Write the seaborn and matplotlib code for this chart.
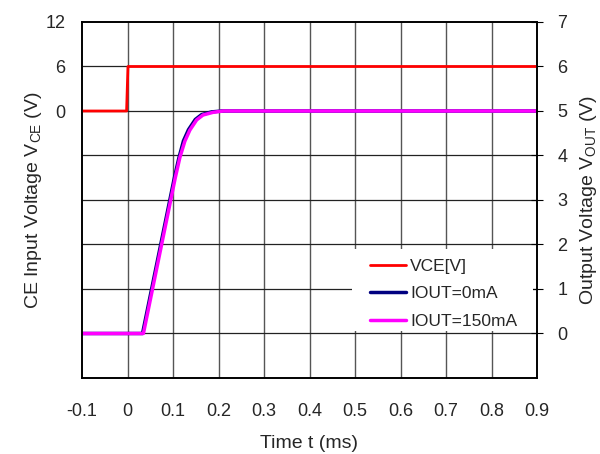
import matplotlib
matplotlib.use("Agg")
import matplotlib.pyplot as plt
from matplotlib.patches import Rectangle
import seaborn as sns
import pandas as pd

# --- data ---
vce_t = [-0.1, -0.002, 0.001, 0.9]
vce_v = [0.0, 0.0, 6.0, 6.0]

vout0_t = [-0.1, 0.033, 0.035, 0.053, 0.073, 0.093, 0.103, 0.113, 0.123, 0.134, 0.149, 0.163, 0.185, 0.207, 0.9]
vout0_v = [0.0, 0.0, 0.1, 1.0, 2.0, 3.0, 3.5, 3.95, 4.33, 4.58, 4.81, 4.92, 4.98, 5.0, 5.0]

vout150_t = [-0.1, 0.035, 0.037, 0.055, 0.075, 0.095, 0.105, 0.115, 0.126, 0.137, 0.152, 0.166, 0.188, 0.21, 0.9]
vout150_v = [0.0, 0.0, 0.1, 1.0, 2.0, 3.0, 3.5, 3.95, 4.32, 4.57, 4.8, 4.91, 4.97, 5.0, 5.0]

x_ticks = [-0.1, 0, 0.1, 0.2, 0.3, 0.4, 0.5, 0.6, 0.7, 0.8, 0.9]
x_tick_labels = ["-0.1", "0", "0.1", "0.2", "0.3", "0.4", "0.5", "0.6", "0.7", "0.8", "0.9"]
left_ticks = [0, 6, 12]
right_ticks = [0, 1, 2, 3, 4, 5, 6, 7]

sns.set_style("white")
plt.rcParams['font.family'] = ['Liberation Sans', 'DejaVu Sans']
plt.rcParams['mathtext.fontset'] = 'custom'
plt.rcParams['mathtext.rm'] = 'Liberation Sans'

FT = 13     # tick labels
FL = 14     # axis labels
FG = 12.5   # legend

fig = plt.figure(figsize=(6.0, 4.54), dpi=100)
ax = fig.add_axes([82/600, 1-378/454, (537-82)/600, (378-22)/454])
ax2 = ax.twinx()

df_vce = pd.DataFrame({"t": vce_t, "v": vce_v})
df0 = pd.DataFrame({"t": vout0_t, "v": vout0_v})
df150 = pd.DataFrame({"t": vout150_t, "v": vout150_v})

sns.lineplot(data=df_vce, x="t", y="v", ax=ax, color="#ff0000", lw=2, label="VCE[V]", legend=False, estimator=None, sort=False)
sns.lineplot(data=df0, x="t", y="v", ax=ax2, color="#000080", lw=2.5, label="IOUT=0mA", legend=False, estimator=None, sort=False)
sns.lineplot(data=df150, x="t", y="v", ax=ax2, color="#ff00ff", lw=2.5, label="IOUT=150mA", legend=False, estimator=None, sort=False)

ax.set_xlim(-0.1, 0.9)
ax.set_ylim(-36, 12)
ax2.set_ylim(-1, 7)

ax.set_xticks(x_ticks)
ax.set_xticklabels(x_tick_labels, fontsize=FT)
ax.set_yticks(left_ticks)
ax.set_yticklabels([str(v) for v in left_ticks], fontsize=FT)
ax2.set_yticks(right_ticks)
ax2.set_yticklabels([str(v) for v in right_ticks], fontsize=FT)

# grid: vertical at every 0.1, horizontal at every right-axis integer
for xv in x_ticks[1:-1]:
    ax2.axvline(xv, color="#555555", lw=1, zorder=0)
for yv in range(0, 7):
    ax2.axhline(yv, color="#222222", lw=0.9, zorder=0)
ax.set_zorder(ax2.get_zorder() + 1)
ax.patch.set_visible(False)

# white legend background (covers grid only)
ax.add_patch(Rectangle(((352-82)/455, (378-331)/356), (533-352)/455, (331-249)/356,
                       transform=ax.transAxes, facecolor="white", edgecolor="none", zorder=0.5))

ax.tick_params(axis='x', direction='in', length=4, pad=18, color='black')
ax.tick_params(axis='y', length=0, pad=12)
ax2.tick_params(axis='y', direction='inout', length=8, pad=10.5, color='black')

for a in (ax, ax2):
    for s in a.spines.values():
        s.set_color("black")
        s.set_linewidth(1.2)

ax.set_xlabel("Time t (ms)", fontsize=FL, labelpad=10.5)
ax.set_ylabel(r"CE Input Voltage V$\mathregular{_{CE}}$ (V)", fontsize=FL, labelpad=1)
ax2.set_ylabel(r"Output Voltage V$\mathregular{_{OUT}}$ (V)", fontsize=FL, labelpad=8)

h1, l1 = ax.get_legend_handles_labels()
h2, l2 = ax2.get_legend_handles_labels()
leg = ax.legend(h1 + h2, l1 + l2, loc="upper left", bbox_to_anchor=((370-82)/455, (378-258.5)/356),
                frameon=False, fontsize=FG, handlelength=2.1, handletextpad=0.2,
                labelspacing=0.72, borderpad=0, borderaxespad=0)

fig.savefig("out.png", dpi=100)
